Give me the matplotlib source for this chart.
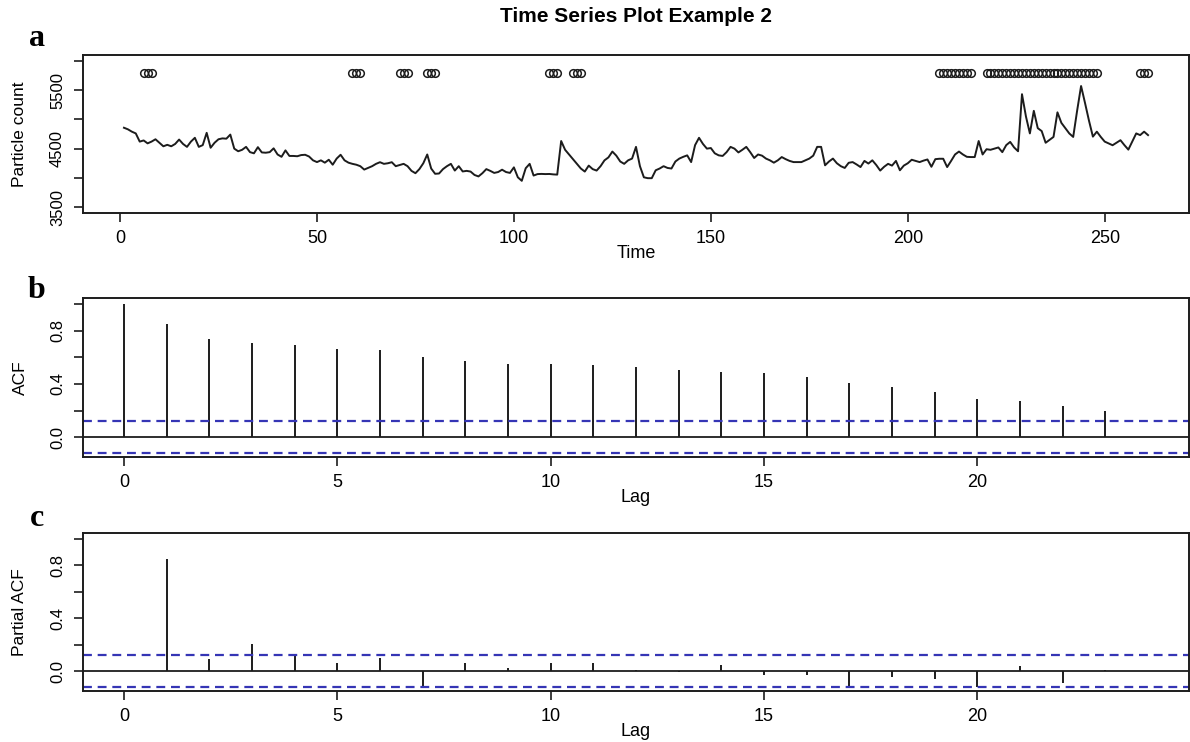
import numpy as np
import matplotlib
matplotlib.use("Agg")
import matplotlib.pyplot as plt


# Panel a: particle count series (t = 1..261)
particle_count = [
    4857, 4830, 4790, 4760, 4620, 4640, 4590, 4620, 4660, 4600,
    4540, 4565, 4540, 4580, 4655, 4580, 4530, 4620, 4685, 4530,
    4560, 4770, 4515, 4600, 4660, 4675, 4670, 4740, 4500, 4455,
    4480, 4530, 4440, 4420, 4525, 4435, 4430, 4440, 4505, 4400,
    4360, 4470, 4375, 4375, 4370, 4390, 4395, 4365, 4300, 4270,
    4300, 4260, 4310, 4225, 4330, 4395, 4300, 4260, 4240, 4225,
    4200, 4142, 4170, 4200, 4240, 4268, 4240, 4250, 4268, 4200,
    4220, 4240, 4200, 4120, 4080, 4150, 4250, 4400, 4160, 4070,
    4075, 4150, 4200, 4240, 4125, 4200, 4110, 4120, 4108, 4050,
    4025, 4080, 4150, 4120, 4085, 4100, 4140, 4100, 4085, 4180,
    4010, 3950, 4165, 4240, 4040, 4065, 4068, 4065, 4067, 4060,
    4056, 4630, 4480, 4400, 4320, 4240, 4160, 4108, 4210, 4150,
    4125, 4200, 4300, 4350, 4450, 4380, 4280, 4240, 4300, 4330,
    4530, 4200, 4010, 3995, 3995, 4130, 4160, 4200, 4170, 4160,
    4280, 4330, 4360, 4385, 4270, 4560, 4685, 4580, 4500, 4510,
    4420, 4385, 4375, 4440, 4530, 4500, 4435, 4480, 4530, 4440,
    4340, 4400, 4380, 4330, 4300, 4260, 4300, 4356, 4320, 4290,
    4270, 4270, 4270, 4300, 4330, 4380, 4530, 4530, 4215, 4280,
    4330, 4250, 4200, 4170, 4258, 4270, 4230, 4185, 4290, 4245,
    4300, 4220, 4125, 4190, 4240, 4210, 4290, 4130, 4210, 4250,
    4310, 4290, 4270, 4295, 4315, 4190, 4320, 4327, 4327, 4185,
    4290, 4400, 4450, 4400, 4360, 4356, 4356, 4630, 4400, 4490,
    4480, 4500, 4520, 4440, 4560, 4615, 4520, 4455, 5430, 5050,
    4760, 5146, 4850, 4800, 4600, 4650, 4700, 5120, 4940, 4850,
    4760, 4700, 5150, 5570, 5280, 4980, 4705, 4790, 4700, 4620,
    4590, 4558, 4600, 4644, 4560, 4483, 4620, 4760, 4731, 4790,
    4731,
]
time = np.arange(1, len(particle_count) + 1)

# flagged time points drawn as open circles along the top
flag_times = ([6, 7, 8, 59, 60, 61, 71, 72, 73, 78, 79, 80,
               109, 110, 111, 115, 116, 117]
              + list(range(208, 217)) + list(range(220, 249))
              + [259, 260, 261])
flag_level = 5800

# Panel b: ACF, lags 0..23
acf_lags = np.arange(0, 24)
acf_vals = [1.0, 0.85, 0.74, 0.71, 0.69, 0.665, 0.655, 0.60, 0.575, 0.55,
            0.55, 0.54, 0.53, 0.505, 0.49, 0.48, 0.45, 0.41, 0.38, 0.34,
            0.29, 0.27, 0.235, 0.20]

# Panel c: partial ACF, lags 1..23
pacf_lags = np.arange(1, 24)
pacf_vals = [0.85, 0.093, 0.21, 0.126, 0.063, 0.10, -0.11, 0.063, 0.025,
             0.063, 0.063, 0.013, -0.005, 0.05, -0.03, -0.03, -0.12, -0.043,
             -0.058, -0.12, 0.038, -0.088, 0.013]

conf_limit = 0.1213  # 1.96 / sqrt(261)

W, H = 1190, 742
fig = plt.figure(figsize=(W / 100, H / 100), dpi=100)
plt.rcParams["font.family"] = ["Liberation Sans", "DejaVu Sans"]

ink = "#1c1c1c"
blue = "#3535b5"
LEFT, RIGHT = 83, 1189


def px_axes(top, bottom):
    return fig.add_axes([LEFT / W, 1 - bottom / H, (RIGHT - LEFT) / W, (bottom - top) / H])


def style(ax, xlab, ylab, height):
    for s in ax.spines.values():
        s.set_color(ink)
        s.set_linewidth(1.4)
    ax.tick_params(direction="out", length=6.5, width=1.2, color=ink)
    ax.tick_params(axis="x", labelsize=13, pad=6)
    ax.tick_params(axis="y", labelsize=12, pad=6.5)
    for lab in ax.get_yticklabels():
        lab.set_rotation(90)
        lab.set_va("center")
    ax.set_xlabel(xlab, fontsize=13)
    ax.xaxis.set_label_coords(0.5, -41 / height)
    ax.xaxis.label.set_va("center")
    ax.set_ylabel(ylab, fontsize=12.5)
    ax.yaxis.set_label_coords((20 - LEFT) / (RIGHT - LEFT), 0.5)
    ax.yaxis.label.set_va("center")


# ---- a ----
ax = px_axes(55, 213)
ax.plot(time, particle_count, color=ink, lw=1.4)
ax.plot(flag_times, [flag_level] * len(flag_times), "o", mfc="none",
        mec=ink, ms=5.5, mew=1.1)
ax.set_xlim(-9.4, 271.4)
ax.set_ylim(3400, 6100)
ax.set_xticks(range(0, 251, 50))
ax.set_yticks(range(3500, 6001, 500))
ax.set_yticklabels(["3500", "", "4500", "", "5500", ""])
style(ax, "Time", "Particle count", 158)

# ---- b, c ----
for top, bottom, lags, vals, ylab in [
        (298, 457, acf_lags, acf_vals, "ACF"),
        (533, 691, pacf_lags, pacf_vals, "Partial ACF")]:
    ax = px_axes(top, bottom)
    ax.vlines(lags, 0, vals, color=ink, lw=1.4)
    ax.axhline(0, color=ink, lw=1.3)
    for c in (conf_limit, -conf_limit):
        ax.axhline(c, color=blue, lw=1.6, linestyle=(0, (4, 2.6)))
    ax.set_xlim(-0.96, 24.96)
    ax.set_ylim(-0.148, 1.045)
    ax.set_xticks(range(0, 21, 5))
    ax.set_yticks(np.arange(0, 1.01, 0.2))
    ax.set_yticklabels(["0.0", "", "0.4", "", "0.8", ""])
    style(ax, "Lag", ylab, bottom - top)

fig.text(636 / W, 1 - 17 / H, "Time Series Plot Example 2", ha="center",
         va="center", fontsize=15, fontweight="bold")
for letter, y in [("a", 38), ("b", 290), ("c", 518)]:
    fig.text(37 / W, 1 - y / H, letter, ha="center", va="center",
             fontsize=23, fontweight="bold", family="Liberation Serif")

fig.savefig("out.png", dpi=100)
